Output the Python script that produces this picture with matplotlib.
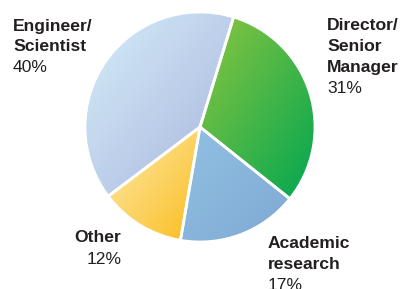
import numpy as np
import matplotlib
matplotlib.use("Agg")
import matplotlib.pyplot as plt
from matplotlib.colors import LinearSegmentedColormap

labels = ["Director/\nSenior\nManager", "Academic\nresearch", "Other", "Engineer/\nScientist"]
values = [31, 17, 12, 40]
pct_labels = ["31%", "17%", "12%", "40%"]
grad_colors = [("#8dc63f", "#00a651"), ("#92c1e3", "#7fa8d3"), ("#fdebb0", "#fbbd1e"), ("#d6edf9", "#a7b5dc")]

W, H = 406, 289
fig = plt.figure(figsize=(W / 100, H / 100), dpi=100)
ax = fig.add_axes([0, 0, 1, 1])

cx, cy, r = 200, H - 127, 115
wedges, _ = ax.pie(values, startangle=73, counterclock=False, center=(cx, cy), radius=r,
                   wedgeprops=dict(edgecolor="white", linewidth=2, facecolor="none"),
                   frame=True)

n = 200
yy, xx = np.mgrid[0:1:n * 1j, 0:1:n * 1j]
t = (xx + (1 - yy)) / 2.0  # 0 at top-left, 1 at bottom-right (origin lower)
for w, (c0, c1) in zip(wedges, grad_colors):
    cmap = LinearSegmentedColormap.from_list("g", [c0, c1])
    verts = w.get_path().vertices
    xs, ys = verts[:, 0], verts[:, 1]
    x0, x1, y0, y1 = xs.min(), xs.max(), ys.min(), ys.max()
    im = ax.imshow(t, cmap=cmap, extent=[x0, x1, y0, y1], origin="lower",
                   interpolation="bilinear", zorder=1, aspect="auto")
    im.set_clip_path(w)
    w.set_zorder(2)

ax.set_xlim(0, W)
ax.set_ylim(0, H)
ax.set_aspect("equal")
ax.axis("off")

font = "Liberation Sans"
fs = 12.6
dark = "#231f20"

def put(x, baselines, label, pct, ha="left"):
    lines = label.split("\n")
    for i, line in enumerate(lines):
        ax.text(x, H - baselines[i], line, ha=ha, va="baseline", fontsize=fs,
                fontweight="bold", color=dark, family=font)
    ax.text(x, H - baselines[len(lines)], pct, ha=ha, va="baseline", fontsize=fs,
            color=dark, family=font)

put(13, [30.5, 51.5, 72], labels[3], pct_labels[3])
put(327, [30.5, 51.5, 72, 93], labels[0], pct_labels[0])
put(121.5, [242.5, 263.5], labels[2], pct_labels[2], ha="right")
put(268, [248, 269, 290], labels[1], pct_labels[1])

fig.savefig("out.png", dpi=100)
